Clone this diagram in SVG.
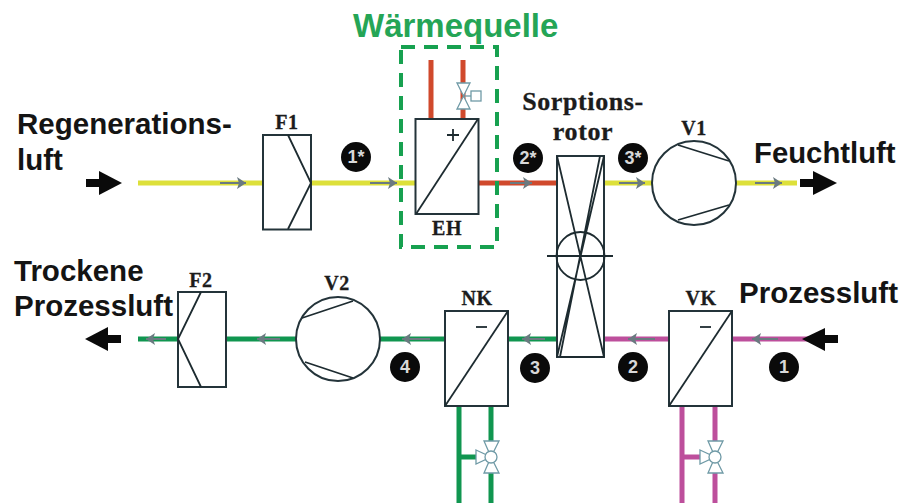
<svg xmlns="http://www.w3.org/2000/svg" width="914" height="503" viewBox="0 0 914 503">
<defs>
<style>
.s{font-family:"Liberation Sans",Arial,sans-serif;font-weight:bold;fill:#141414}
.lbl{font-family:"Liberation Serif","Times New Roman",serif;font-weight:bold;font-size:20px;fill:#1c1c1c;text-anchor:middle;letter-spacing:.6px;stroke:#1c1c1c;stroke-width:.3px}
.n{font-family:"Liberation Sans",Arial,sans-serif;font-weight:bold;font-size:18px;fill:#d8d8d8;text-anchor:middle}
.box{fill:#fff;stroke:#24343a;stroke-width:2}
.ln{fill:none;stroke:#1d2b30;stroke-width:1.800}
.v{fill:#fff;stroke:#6f9aa6;stroke-width:1.300}
.y{stroke:#dde03a;stroke-width:5;fill:none}
.r{stroke:#d0492c;stroke-width:5;fill:none}
.g{stroke:#109650;stroke-width:5;fill:none}
.m{stroke:#bd4f9c;stroke-width:5;fill:none}
.fa{stroke:#6a7a80;stroke-width:2;fill:none;marker-end:url(#ah)}
.big{stroke:#0a0a0a;stroke-width:8;fill:none}
</style>
<marker id="ah" markerUnits="userSpaceOnUse" markerWidth="10" markerHeight="12" refX="9" refY="6" orient="auto"><path d="M0 0L9 6L0 12L2 6Z" fill="#6a7a80"/></marker>
</defs>
<rect width="914" height="503" fill="#fff"/>
<g id="connectors">
<path class="y" d="M138 183H263M311 183H416M604 183H652M736 183H797"/>
<path class="r" d="M479 183H557M431 60V119M463 60V119"/>
<path class="g" d="M138 339H178M226 339H296M380 339H445M508 339H557M459 406V503M491 406V503M459 457H480"/>
<path class="m" d="M604 339H669M732 339H829M682 406V503M715 406V503M682 457H704"/>
<path class="fa" d="M220 183H246"/><path class="fa" d="M370 183H397"/><path class="fa" d="M510 183H532"/><path class="fa" d="M619 183H645"/><path class="fa" d="M755 183H782"/>
<path class="fa" d="M166 339H146"/><path class="fa" d="M280 339H257"/><path class="fa" d="M430 339H402"/><path class="fa" d="M545 339H522"/><path class="fa" d="M655 339H628"/><path class="fa" d="M778 339H752"/>
<g id="flow-arrows">
<path class="big" d="M86 183H106"/><path d="M99 171L122 183L99 195Z" fill="#0a0a0a"/>
<path class="big" d="M800 183H820"/><path d="M813 171L837 183L813 195Z" fill="#0a0a0a"/>
<path class="big" d="M121 339H102"/><path d="M108 327L85 339L108 351Z" fill="#0a0a0a"/>
<path class="big" d="M838 339H820"/><path d="M825 328L802 339L825 351Z" fill="#0a0a0a"/>
</g>
</g>
<g id="waermequelle"><rect x="401" y="47" width="96" height="200" fill="none" stroke="#17a150" stroke-width="4" stroke-dasharray="14 9"/>
<text class="s" x="353" y="37" font-size="33" style="fill:#25a556">Wärmequelle</text></g>
<g id="F1"><rect class="box" x="263" y="135" width="48" height="94.500"/><path class="ln" d="M288 135L311 183L288 229"/><text class="lbl" x="287" y="129">F1</text></g>
<g id="F2"><rect class="box" x="178" y="292" width="48" height="95"/><path class="ln" d="M201 292L178 339L201 387"/><text class="lbl" x="201" y="287">F2</text></g>
<g id="EH"><rect class="box" x="415.500" y="119" width="63" height="95"/><path class="ln" d="M416 214L478 119"/><path class="ln" d="M447 135H459M453 129V141"/><text class="lbl" x="447" y="235">EH</text>
<path class="v" d="M457 83H470L457 109H470Z"/><path class="v" d="M463.500 96H471"/><rect class="v" x="471" y="91" width="10" height="10"/></g>
<g id="rotor"><rect class="box" x="557" y="156" width="47" height="201"/><circle class="ln" cx="580.500" cy="256" r="24"/><path class="ln" d="M547 256H613M557 156L604 357M604 156L557 357M600 156L560 357M560 357H604"/><text class="lbl" x="583" y="110" style="font-size:26px">Sorptions-</text><text class="lbl" x="583" y="140" style="font-size:26px">rotor</text></g>
<g id="V1"><circle class="box" cx="694" cy="183" r="42"/><path class="ln" d="M678 145L729 161M678 220L729 205"/><text class="lbl" x="694" y="135">V1</text></g>
<g id="V2"><circle class="box" cx="338" cy="339" r="42"/><path class="ln" d="M302 318L353 301M305 362L353 378"/><text class="lbl" x="337" y="290">V2</text></g>
<g id="NK"><rect class="box" x="445" y="311" width="63" height="95"/><path class="ln" d="M445 406L508 311"/><path class="ln" d="M476 327H487"/><text class="lbl" x="477" y="305">NK</text>
<path class="v" d="M476 450L491 457L476 464Z"/><path class="v" d="M484 441H499L491 457ZM484 473H499L491 457Z"/><circle class="v" cx="491" cy="457" r="6"/></g>
<g id="VK"><rect class="box" x="669" y="311" width="63" height="95"/><path class="ln" d="M669 406L732 311"/><path class="ln" d="M700 327H711"/><text class="lbl" x="701" y="305">VK</text>
<path class="v" d="M700 450L715 457L700 464Z"/><path class="v" d="M708 441H723L715 457ZM708 473H723L715 457Z"/><circle class="v" cx="715" cy="457" r="6"/></g>
<g id="badges" fill="#0a0a0a">
<circle cx="356" cy="157" r="15"/><text class="n" x="356" y="163">1*</text>
<circle cx="528" cy="158" r="15"/><text class="n" x="528" y="164">2*</text>
<circle cx="633" cy="158" r="15"/><text class="n" x="633" y="164">3*</text>
<circle cx="405" cy="367" r="15"/><text class="n" x="405" y="373">4</text>
<circle cx="535" cy="368" r="15"/><text class="n" x="535" y="374">3</text>
<circle cx="633" cy="367" r="15"/><text class="n" x="633" y="373">2</text>
<circle cx="784" cy="367" r="15"/><text class="n" x="784" y="373">1</text>
</g>
<g id="labels">
<text class="s" x="17" y="134" font-size="29.500">Regenerations-</text>
<text class="s" x="17" y="170" font-size="29.500">luft</text>
<text class="s" x="14" y="281" font-size="29.500">Trockene</text>
<text class="s" x="14" y="316" font-size="29.500">Prozessluft</text>
<text class="s" x="754" y="163" font-size="29.300">Feuchtluft</text>
<text class="s" x="739" y="303" font-size="29.500">Prozessluft</text>
</g>
</svg>
